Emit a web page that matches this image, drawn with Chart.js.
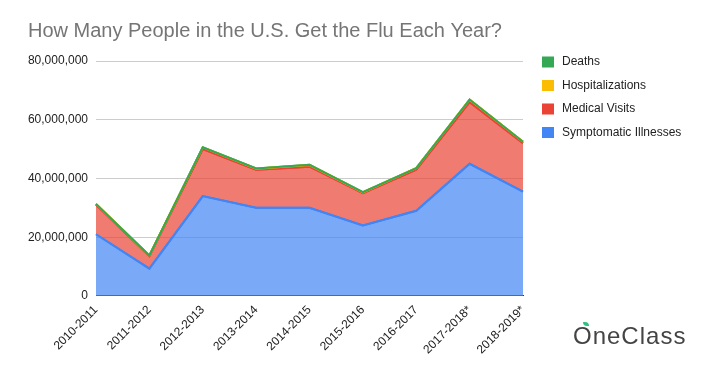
<!DOCTYPE html>
<html>
<head>
<meta charset="utf-8">
<script src="https://cdn.jsdelivr.net/npm/chart.js@4"></script>
<style>
  body { margin: 0; background: #fff; }
  #wrap { position: relative; width: 712px; height: 371px; }
  #logo { position: absolute; left: 573px; top: 322px; font: 24px "Liberation Sans", Arial, sans-serif; color: #444; letter-spacing: 1px; }
  #leaf { position: absolute; left: 583px; top: 322px; width: 6px; height: 4px; background: #2ec27e; border-radius: 0 4px 0 4px; }
</style>
</head>
<body>
<div id="wrap">
  <canvas id="grafico" width="712" height="371"></canvas>
  <div id="logo">OneClass</div>
  <div id="leaf"></div>
</div>
<script>
// dados
const temporadas = ['2010-2011', '2011-2012', '2012-2013', '2013-2014', '2014-2015', '2015-2016', '2016-2017', '2017-2018*', '2018-2019*'];
const sintomaticos = [21000000, 9300000, 34000000, 30000000, 30000000, 24000000, 29000000, 45000000, 35500000];
const consultas = [10000000, 4300000, 16000000, 13000000, 14000000, 11000000, 14000000, 21000000, 16500000];
const internacoes = [290000, 140000, 570000, 350000, 590000, 280000, 500000, 810000, 490000];
const mortes = [37000, 12000, 43000, 38000, 51000, 23000, 38000, 61000, 34000];
const ticksY = [0, 20000000, 40000000, 60000000, 80000000];

const fonte = '"Liberation Sans", Arial, sans-serif';

function serie(label, data, cor, fundo, fill) {
  return {
    label, data, fill,
    borderColor: cor, backgroundColor: fundo,
    borderWidth: 2, pointRadius: 0, tension: 0
  };
}

// linhas por cima das áreas, a última série no topo
const linhasPorCima = {
  id: 'linhasPorCima',
  afterDatasetsDraw(chart) {
    const ctx = chart.ctx;
    const a = chart.chartArea;
    ctx.save();
    ctx.beginPath();
    ctx.rect(a.left - 2, a.top - 2, a.right - a.left + 4, a.bottom - a.top + 4);
    ctx.clip();
    chart.data.datasets.forEach((ds, i) => {
      chart.getDatasetMeta(i).dataset.draw(ctx);
    });
    ctx.restore();
  }
};

// legenda à direita
const legenda = {
  id: 'legenda',
  afterDraw(chart) {
    const ctx = chart.ctx;
    const lista = chart.data.datasets.slice().reverse();
    ctx.save();
    ctx.font = '12px ' + fonte;
    ctx.textBaseline = 'middle';
    lista.forEach((ds, i) => {
      const y = 62 + i * 23.5;
      ctx.fillStyle = ds.borderColor;
      ctx.fillRect(542, y - 5.5, 12, 11);
      ctx.fillStyle = '#222';
      ctx.fillText(ds.label, 562, y);
    });
    ctx.restore();
  }
};

const ctx = document.getElementById('grafico').getContext('2d');
new Chart(ctx, {
  type: 'line',
  data: {
    labels: temporadas,
    datasets: [
      serie('Symptomatic Illnesses', sintomaticos, '#4285F4', 'rgba(66,133,244,0.7)', 'origin'),
      serie('Medical Visits', consultas, '#EA4335', 'rgba(234,67,53,0.7)', '-1'),
      serie('Hospitalizations', internacoes, '#FBBC04', 'rgba(251,188,4,0.7)', '-1'),
      serie('Deaths', mortes, '#34A853', 'rgba(52,168,83,0.7)', '-1')
    ]
  },
  plugins: [linhasPorCima, legenda],
  options: {
    responsive: false,
    animation: false,
    layout: { padding: { left: 28, right: 189, top: 0, bottom: 7 } },
    plugins: {
      title: {
        display: true,
        text: 'How Many People in the U.S. Get the Flu Each Year?',
        align: 'start',
        color: '#757575',
        font: { family: fonte, size: 20, weight: 'normal' },
        padding: { top: 19, bottom: 18 }
      },
      legend: { display: false },
      tooltip: { enabled: false }
    },
    scales: {
      x: {
        offset: false,
        grid: { display: false, drawTicks: false },
        border: { color: '#333', width: 1 },
        ticks: {
          color: '#222', font: { family: fonte, size: 12 },
          maxRotation: 45, minRotation: 45, autoSkip: false, padding: 7
        }
      },
      y: {
        stacked: true,
        min: 0, max: 80000000,
        afterFit: (s) => { s.width = 68; },
        afterBuildTicks: (s) => { s.ticks = ticksY.map(v => ({ value: v })); },
        grid: { color: '#cccccc', drawTicks: false },
        border: { display: false },
        ticks: {
          color: '#222', font: { family: fonte, size: 12 }, padding: 8,
          callback: (v) => v.toLocaleString('en-US')
        }
      }
    }
  }
});
</script>
</body>
</html>
